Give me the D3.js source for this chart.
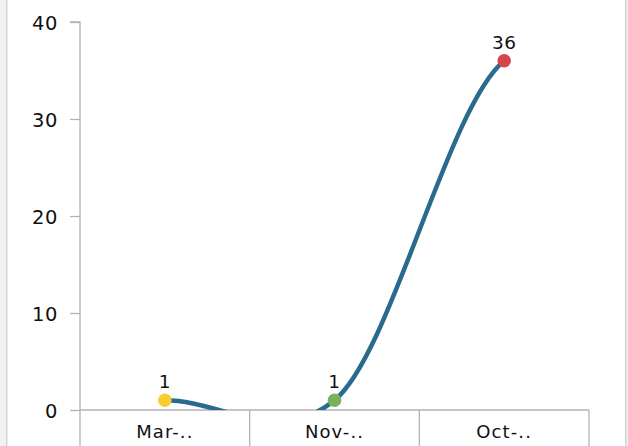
<!DOCTYPE html>
<html lang="en">
<head>
  <meta charset="UTF-8">
  <title>Line chart</title>
  <script src="https://d3js.org/d3.v7.min.js"></script>
  <style type="text/css">
    html, body {
      margin: 0;
      padding: 0;
      background: #fff;
    }
    svg {
      display: block;
      font-family: 'DejaVu Sans', Verdana, sans-serif;
    }
  </style>
</head>
<body>
<div id="chart"></div>
<script>
  // data
  var categories = ['Mar-..', 'Nov-..', 'Oct-..'];
  var values = [1, 1, 36];
  var pointColors = ['#f7ce2b', '#79b15c', '#d5464c'];
  var yTicks = [0, 10, 20, 30, 40];

  var W = 628, H = 446,
    MARGIN = {top: 22, right: 39, bottom: 36, left: 80},
    WIDTH = W - MARGIN.left - MARGIN.right,
    HEIGHT = H - MARGIN.top - MARGIN.bottom;

  // smooth curve with slopes along x (a bit softer than catmull-rom)
  function smoothX(context) {
    var pts;
    var SOFT = 0.82;
    return {
      areaStart: function () {},
      areaEnd: function () {},
      lineStart: function () { pts = []; },
      point: function (x, y) { pts.push([+x, +y]); },
      lineEnd: function () {
        var n = pts.length;
        if (!n) return;
        context.moveTo(pts[0][0], pts[0][1]);
        if (n === 1) return;
        var m = pts.map(function (p, i) {
          var a, b;
          if (i === 0) { a = pts[0]; b = pts[1]; return SOFT * (b[1] - a[1]) / (b[0] - a[0]) / 2; }
          if (i === n - 1) { a = pts[n - 2]; b = pts[n - 1]; return SOFT * (b[1] - a[1]) / (b[0] - a[0]) / 2; }
          a = pts[i - 1]; b = pts[i + 1];
          return SOFT * (b[1] - a[1]) / (b[0] - a[0]);
        });
        for (var i = 0; i < n - 1; i++) {
          var p0 = pts[i], p1 = pts[i + 1], dx = (p1[0] - p0[0]) / 3;
          context.bezierCurveTo(p0[0] + dx, p0[1] + m[i] * dx,
            p1[0] - dx, p1[1] - m[i + 1] * dx, p1[0], p1[1]);
        }
      }
    };
  }

  var svg = d3.select('#chart').append('svg')
    .attr('width', W)
    .attr('height', H);

  // frame bits at both edges
  svg.append('rect').attr('x', 0).attr('y', 0).attr('width', 6).attr('height', H).attr('fill', '#f2f2f2');
  svg.append('rect').attr('x', 6).attr('y', 0).attr('width', 1.5).attr('height', H).attr('fill', '#d6d6d6');
  svg.append('rect').attr('x', 625).attr('y', 0).attr('width', 3).attr('height', H).attr('fill', '#f0f0f0');
  svg.append('rect').attr('x', 625).attr('y', 0).attr('width', 1.5).attr('height', H).attr('fill', '#d3d3d3');

  var g = svg.append('g')
    .attr('transform', 'translate(' + MARGIN.left + ',' + MARGIN.top + ')');

  var x = d3.scaleBand()
    .domain(categories)
    .range([0, WIDTH]);
  var y = d3.scaleLinear()
    .domain([0, 40])
    .range([HEIGHT, 0]);

  // y axis
  var yAxis = g.append('g')
    .call(d3.axisLeft(y).tickValues(yTicks).tickSize(10).tickPadding(12));
  yAxis.selectAll('line, path').attr('stroke', '#b3b3b3').attr('stroke-width', 1.3);
  yAxis.select('.domain').attr('d', 'M0,' + HEIGHT + 'V0H-10');
  yAxis.selectAll('text').attr('font-size', 19.5).attr('letter-spacing', 0.6).attr('fill', '#111')
    .attr('dy', '0.36em')
    .attr('font-family', "'DejaVu Sans', Verdana, sans-serif");

  // x axis with category dividers
  var xAxis = g.append('g').attr('transform', 'translate(0,' + HEIGHT + ')');
  xAxis.append('line')
    .attr('x1', 0).attr('x2', WIDTH)
    .attr('stroke', '#b3b3b3').attr('stroke-width', 1.3);
  xAxis.selectAll('line.div')
    .data(d3.range(categories.length + 1))
    .enter().append('line')
    .attr('class', 'div')
    .attr('x1', function (i) { return i * x.step(); })
    .attr('x2', function (i) { return i * x.step(); })
    .attr('y1', 0).attr('y2', MARGIN.bottom)
    .attr('stroke', '#b3b3b3').attr('stroke-width', 1.3);
  xAxis.selectAll('text')
    .data(categories)
    .enter().append('text')
    .attr('x', function (d) { return x(d) + x.bandwidth() / 2; })
    .attr('y', 28)
    .attr('text-anchor', 'middle')
    .attr('font-size', 18)
    .attr('letter-spacing', 1.1)
    .attr('fill', '#111')
    .text(function (d) { return d; });

  // clip the curve to the plot area
  g.append('clipPath').attr('id', 'plotClip')
    .append('rect').attr('x', 0).attr('y', -20).attr('width', WIDTH).attr('height', HEIGHT + 20);

  var line = d3.line()
    .x(function (d, i) { return x(categories[i]) + x.bandwidth() / 2; })
    .y(function (d) { return y(d); })
    .curve(smoothX);

  g.append('path')
    .datum(values)
    .attr('clip-path', 'url(#plotClip)')
    .attr('d', line)
    .attr('fill', 'none')
    .attr('stroke', '#2a6b8d')
    .attr('stroke-width', 4.5)
    .attr('stroke-linecap', 'round');

  g.selectAll('circle')
    .data(values)
    .enter().append('circle')
    .attr('cx', function (d, i) { return x(categories[i]) + x.bandwidth() / 2; })
    .attr('cy', function (d) { return y(d); })
    .attr('r', 6.8)
    .attr('fill', function (d, i) { return pointColors[i]; });

  g.selectAll('text.lbl')
    .data(values)
    .enter().append('text')
    .attr('class', 'lbl')
    .attr('x', function (d, i) { return x(categories[i]) + x.bandwidth() / 2; })
    .attr('y', function (d) { return y(d) - 12; })
    .attr('text-anchor', 'middle')
    .attr('font-size', 18.5)
    .attr('letter-spacing', 0.5)
    .attr('fill', '#111')
    .text(function (d) { return d; });
</script>
</body>
</html>
